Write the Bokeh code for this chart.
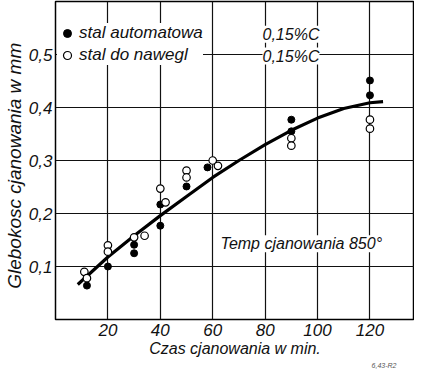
from bokeh.plotting import figure
from bokeh.models import (ColumnDataSource, FixedTicker, Label, Legend, LegendItem, Range1d, Title)
from bokeh.embed import file_html
from bokeh.resources import INLINE

# --- data ---
auto_t = [12, 20, 30, 30, 40, 40, 50, 58, 90, 90, 120, 120]
auto_v = [0.064, 0.100, 0.141, 0.125, 0.217, 0.177, 0.251, 0.287, 0.377, 0.355, 0.451, 0.423]

naw_t = [11, 12, 20, 20, 30, 34, 40, 42, 50, 50, 60, 62, 90, 90, 120, 120]
naw_v = [0.090, 0.078, 0.140, 0.128, 0.155, 0.158, 0.247, 0.221, 0.281, 0.268, 0.300, 0.290,
         0.342, 0.328, 0.377, 0.360]

curve_t = [8.5, 20, 30, 40, 50, 60, 70, 80, 90, 100, 110, 120, 125]
curve_v = [0.066, 0.118, 0.158, 0.196, 0.232, 0.268, 0.300, 0.330, 0.357, 0.380, 0.398, 0.409, 0.411]

x_ticks = [20, 40, 60, 80, 100, 120]
y_ticks = [0.1, 0.2, 0.3, 0.4, 0.5]
y_tick_labels = ["0,1", "0,2", "0,3", "0,4", "0,5"]

legend_labels = ["stal automatowa", "stal do nawegl"]
legend_suffix = "0,15%C"
note_text = "Temp cjanowania 850°"
x_label = "Czas cjanowania w min."
y_label = "Glebokosc  cjanowania  w mm"
footnote = "6,43-R2"

FONT = "Liberation Sans"
INK = "#111111"

p = figure(width=414, height=370, output_backend="svg", toolbar_location=None,
           x_range=Range1d(0, 137), y_range=Range1d(0, 0.6),
           min_border_left=50, min_border_right=0, min_border_top=1, min_border_bottom=51)

p.outline_line_color = "black"
p.outline_line_width = 1.5
p.background_fill_color = "white"
p.border_fill_color = "white"

p.xgrid.ticker = FixedTicker(ticks=x_ticks)
p.ygrid.ticker = FixedTicker(ticks=y_ticks)
for g in (p.xgrid, p.ygrid):
    g.grid_line_color = INK
    g.grid_line_width = 1.2

p.xaxis.ticker = FixedTicker(ticks=x_ticks)
p.yaxis.ticker = FixedTicker(ticks=y_ticks)
p.yaxis.major_label_overrides = {t: l for t, l in zip(y_ticks, y_tick_labels)}
for ax in (p.xaxis[0], p.yaxis[0]):
    ax.axis_line_color = None
    ax.major_tick_line_color = None
    ax.minor_tick_line_color = None
    ax.major_tick_in = 0
    ax.major_tick_out = 0
    ax.major_label_text_font = FONT
    ax.major_label_text_font_style = "italic"
    ax.major_label_text_font_size = "17px"
    ax.major_label_text_color = INK
    ax.axis_label_text_font = FONT
    ax.axis_label_text_font_style = "italic"
    ax.axis_label_text_color = INK
p.xaxis.axis_label_text_font_size = "16px"
p.yaxis.axis_label_text_font_size = "19px"
p.xaxis.major_label_standoff = 4
p.yaxis.major_label_standoff = 3
p.xaxis.axis_label = x_label
p.yaxis.axis_label = y_label
p.xaxis.axis_label_standoff = 1
p.yaxis.axis_label_standoff = 1

curve_src = ColumnDataSource(dict(t=curve_t, v=curve_v))
p.line("t", "v", source=curve_src, line_color="black", line_width=3.2)

auto_src = ColumnDataSource(dict(t=auto_t, v=auto_v))
naw_src = ColumnDataSource(dict(t=naw_t, v=naw_v))
r_auto = p.scatter("t", "v", source=auto_src, marker="circle", size=7,
                   fill_color="black", line_color="black")
r_naw = p.scatter("t", "v", source=naw_src, marker="circle", size=7.5,
                  fill_color="white", line_color="black", line_width=1.2)

legend = Legend(items=[LegendItem(label=legend_labels[0], renderers=[r_auto]),
                       LegendItem(label=legend_labels[1], renderers=[r_naw])],
                location=(2, 254), orientation="vertical",
                background_fill_color="white", background_fill_alpha=1.0,
                border_line_color=None, padding=0, margin=0, spacing=2,
                glyph_width=20, glyph_height=20, label_height=20, label_standoff=2,
                label_text_font=FONT, label_text_font_style="italic",
                label_text_font_size="17px", label_text_color=INK)
p.add_layout(legend)

for yv in (0.538, 0.497):
    p.add_layout(Label(x=79, y=yv, text=legend_suffix, text_baseline="middle",
                       text_font=FONT, text_font_style="italic", text_font_size="16px",
                       text_color=INK, background_fill_color="white",
                       background_fill_alpha=1.0))

p.add_layout(Label(x=63, y=0.143, text=note_text, text_baseline="middle",
                   text_font=FONT, text_font_style="italic", text_font_size="16px",
                   text_color=INK, background_fill_color="white",
                   background_fill_alpha=1.0))

p.add_layout(Title(text=footnote, align="right", text_font=FONT, text_font_style="italic",
                   text_font_size="7px", text_color="#555555", standoff=0, offset=18), "below")

open("out.html", "w").write(file_html(p, INLINE))
